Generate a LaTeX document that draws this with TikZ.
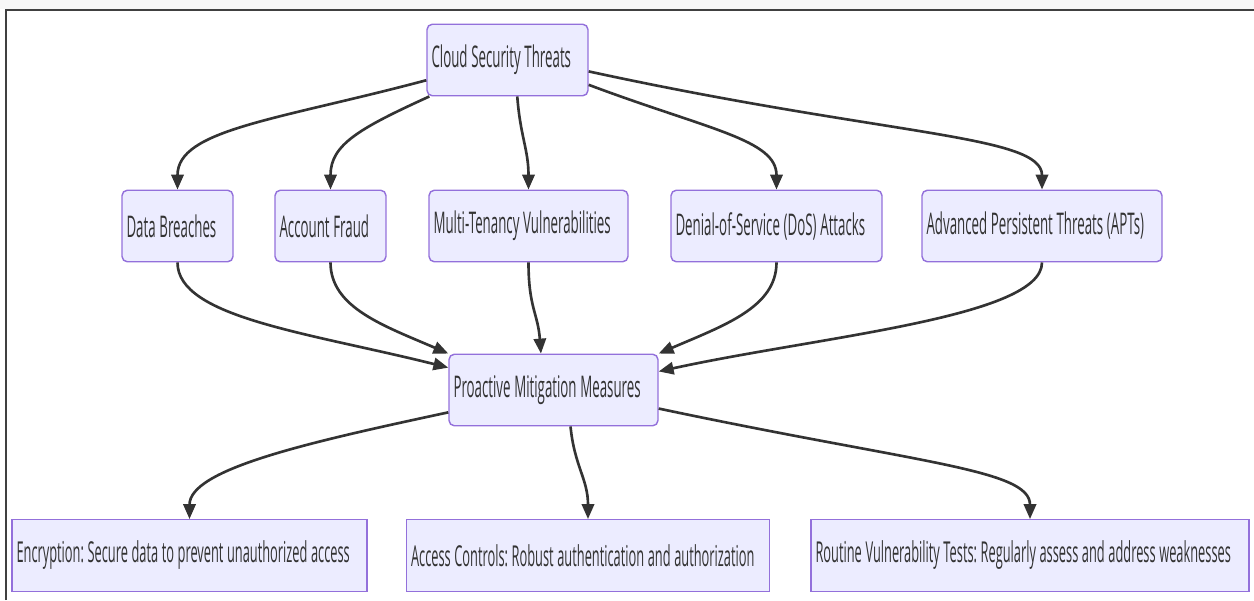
\documentclass[tikz,border=0pt]{standalone}
\usepackage{fontspec}
\setmainfont{Open Sans}[FakeStretch=0.445]
\usepackage{xcolor}
\usetikzlibrary{arrows.meta}

\definecolor{boxfill}{HTML}{ECECFF}
\definecolor{boxline}{HTML}{9370DB}
\definecolor{linkgray}{HTML}{333333}

\begin{document}
\begin{tikzpicture}[
	%	style def
    x=0.02cm, y=0.02cm,
    threat box/.style={draw=boxline, fill=boxfill, line width=0.8pt, rounded corners=3pt,
        minimum height=1.43cm, inner xsep=0.09cm, align=left, text=linkgray,
        font=\fontsize{17pt}{20pt}\selectfont,
        execute at begin node={\spaceskip=0.125em\xspaceskip=0.125em\hyphenpenalty=10000\relax}},
    measure box/.style={threat box, rounded corners=0pt, font=\fontsize{16.4pt}{20pt}\selectfont},
    link line/.style={draw=linkgray, line width=1.5pt, -{Triangle[length=8.5pt,width=7pt]}}
    ]
    \useasboundingbox (0,0) rectangle (1254,600);

    % window frame
    \fill[gray!6] (0,591) rectangle (1254,600);
    \draw[line width=0.9pt, black!75] (6,0) -- (6,590) -- (1254,590);

	% root
    \node[threat box, text width=3.04cm] (cst) at (507.5,540) {Cloud Security Threats};

	% threats
    \node[threat box, text width=2.04cm] (db)  at (177.5,374) {Data Breaches};
    \node[threat box, text width=2.04cm] (af)  at (330.5,374) {Account Fraud};
    \node[threat box, text width=3.80cm] (mtv) at (528.5,374) {Multi-Tenancy Vulnerabilities};
    \node[threat box, text width=4.04cm] (dos) at (776.5,374) {Denial-of-Service (DoS) Attacks};
    \node[threat box, text width=4.62cm] (apt) at (1042,374) {Advanced Persistent Threats (APTs)};

	% mitigation
    \node[threat box, text width=4.00cm] (pmm) at (553.5,210) {Proactive Mitigation Measures};

	% measures
    \node[measure box, text width=6.92cm] (enc) at (189.5,44.5) {Encryption: Secure data to prevent unauthorized access};
    \node[measure box, text width=7.08cm] (acc) at (588,44.5) {Access Controls: Robust authentication and authorization};
    \node[measure box, text width=8.58cm] (rvt) at (1030,44.5) {Routine Vulnerability Tests: Regularly assess and address weaknesses};

	% root to threats
    \draw[link line] (cst.194) .. controls +(-150,-40) and +(0,60) .. (db.north);
    \draw[link line] (cst.205) .. controls +(-70,-32) and +(0,45) .. (af.north);
    \draw[link line] (cst.-75) .. controls +(3,-40) and +(0,40) .. (mtv.north);
    \draw[link line] (cst.-17) .. controls +(120,-45) and +(0,50) .. (dos.north);
    \draw[link line] (cst.-8) .. controls +(300,-65) and +(0,55) .. (apt.north);

	% threats to mitigation
    \draw[link line] (db.south) .. controls +(0,-55) and +(-140,35) .. (pmm.168);
    \draw[link line] (af.south) .. controls +(0,-45) and +(-65,28) .. (pmm.north west);
    \draw[link line] (mtv.south) .. controls +(0,-45) and +(-3,40) .. (pmm.109);
    \draw[link line] (dos.south) .. controls +(0,-45) and +(65,28) .. (pmm.north east);
    \draw[link line] (apt.south) .. controls +(0,-55) and +(160,35) .. (pmm.10);

	% mitigation to measures
    \draw[link line] (pmm.192) .. controls +(-140,-30) and +(0,50) .. (enc.north);
    \draw[link line] (pmm.-65) .. controls +(4,-40) and +(0,40) .. (acc.north);
    \draw[link line] (pmm.-10) .. controls +(260,-55) and +(0,50) .. (rvt.north);
\end{tikzpicture}
\end{document}
